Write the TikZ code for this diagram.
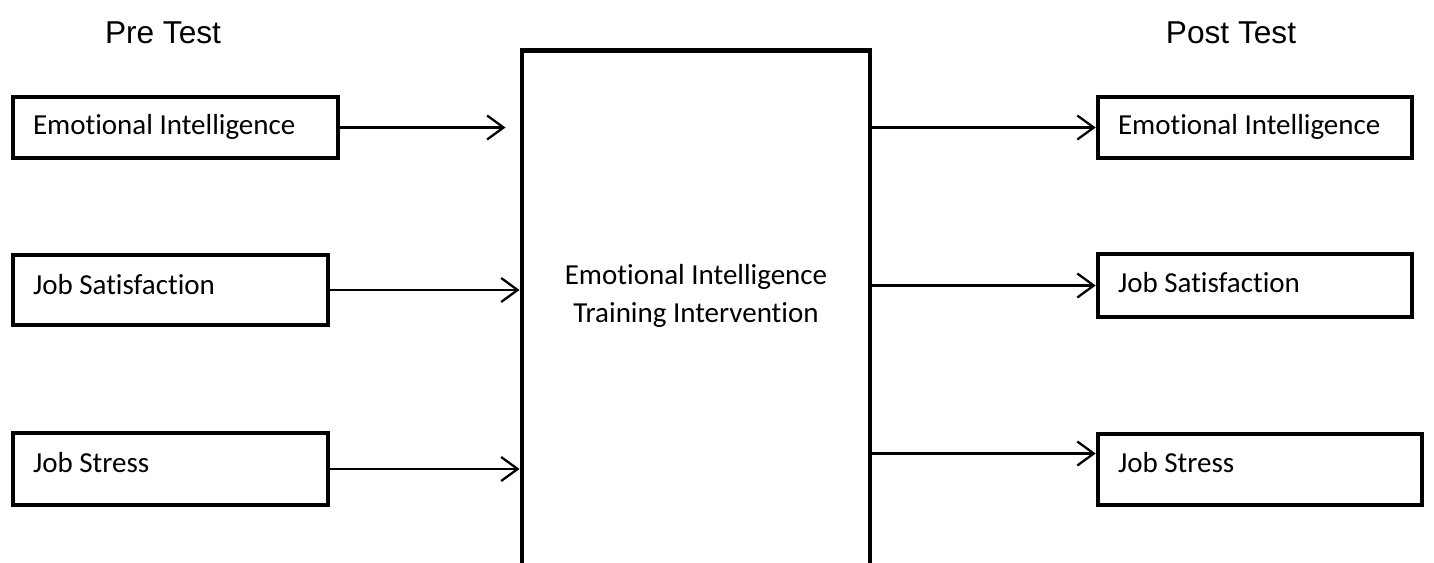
\documentclass[tikz,border=0pt]{standalone}
\usepackage{fontspec}
\setmainfont{Carlito}[Ligatures=NoCommon]
\newfontfamily\headfont{Liberation Sans}
\usetikzlibrary{calc}
\usetikzlibrary{arrows, arrows.meta}

\begin{document}
\begin{tikzpicture}[x=0.02cm, y=-0.02cm,
	varbox/.style={draw, line width=2.6pt, rectangle, align=flush left,
		inner xsep=0.4cm, inner ysep=0pt, font=\fontsize{16.5}{19}\selectfont,
		text height=0.42cm, text depth=0.16cm},
	link/.style={line width=1.3pt, black, -{Straight Barb[length=3.3mm, width=4.8mm]}},
	headlbl/.style={font=\headfont\fontsize{18}{21}\selectfont}]

\clip (0,0) rectangle (1434,562);

% headings
\node[headlbl] (pre) at (163,33) {Pre Test};
\node[headlbl] (post) at (1231,33) {Post Test};

% the intervention, cut off at the bottom
\node[draw, line width=2.8pt, minimum width=6.96cm, minimum height=11.4cm] (train) at (696,335) {};
\node[align=center, font=\fontsize{16.5}{21.5}\selectfont] (trainlbl) at (696,296)
	{Emotional Intelligence\\Training Intervention};

% pre test measures
\node[varbox, text width=5.7cm, minimum height=1.22cm] (lei) at (175.5,127.5) {Emotional Intelligence};
\node[varbox, text width=5.5cm, minimum height=1.4cm, text depth=0.26cm] (ljs) at (170.5,290) {Job Satisfaction};
\node[varbox, text width=5.5cm, minimum height=1.44cm, text depth=0.3cm] (ljst) at (170.5,469) {Job Stress};

% post test measures
\node[varbox, text width=5.48cm, minimum height=1.22cm] (rei) at (1255,127.5) {Emotional Intelligence};
\node[varbox, text width=5.48cm, minimum height=1.26cm] (rjs) at (1255,285.5) {Job Satisfaction};
\node[varbox, text width=5.68cm, minimum height=1.42cm, text depth=0.32cm] (rjst) at (1260,469.5) {Job Stress};

\draw [link, shorten >=8pt] (lei.east) -- (lei.east -| train.west);
\draw [link] (ljs.east) -- (ljs.east -| train.west);
\draw [link] (ljst.east) -- (ljst.east -| train.west);

\draw [link] (rei.west -| train.east) -- (rei.west);
\draw [link] (rjs.west -| train.east) -- (rjs.west);
\coordinate (rjsin) at ($(rjst.west)+(0,-16)$);
\draw [link] (rjsin -| train.east) -- (rjsin);

\end{tikzpicture}
\end{document}
